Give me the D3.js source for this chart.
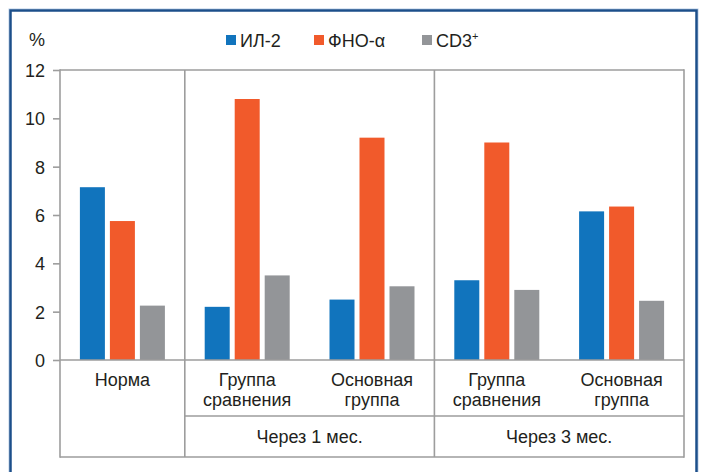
<!DOCTYPE html>
<html><head><meta charset="utf-8">
<script src="https://cdn.jsdelivr.net/npm/d3@7/dist/d3.min.js"></script>
<style>
html,body{margin:0;padding:0;background:#fff;}
svg text{font-family:"Liberation Sans",Arial,sans-serif;fill:#231f20;}
</style></head>
<body><svg id="c" width="702" height="472"></svg>
<script>
const categories = ["Норма", "Группа\nсравнения", "Основная\nгруппа", "Группа\nсравнения", "Основная\nгруппа"];
const seriesNames = ["ИЛ-2", "ФНО-α", "CD3"];
const il2 = [7.15, 2.2, 2.5, 3.3, 6.15];
const tnf = [5.75, 10.8, 9.2, 9.0, 6.35];
const cd3 = [2.25, 3.5, 3.05, 2.9, 2.45];
const periods = [{label: "Через 1 мес.", from: 1, to: 2}, {label: "Через 3 мес.", from: 3, to: 4}];
const yTicks = [0, 2, 4, 6, 8, 10, 12];
const colors = ["#1174bd", "#f15a2b", "#939598"];

const svg = d3.select("#c");
const L = 60, R = 684, T = 70, B = 360, band1 = 416, band2 = 457;
const lineCol = "#9d9d9d";
const FS = 18;

// frame
svg.append("rect").attr("x", 9).attr("y", 9).attr("width", 689).attr("height", 480)
  .attr("fill", "none").attr("stroke", "#b7cde8").attr("stroke-width", 1);
svg.append("rect").attr("x", 10.5).attr("y", 10.5).attr("width", 686).attr("height", 480)
  .attr("fill", "none").attr("stroke", "#1c4f8a").attr("stroke-width", 2.5);

const idx = d3.range(categories.length);
const x = d3.scaleBand().domain(idx).range([L, R]).padding(0);
const y = d3.scaleLinear().domain([0, 12]).range([B, T]);
const xs = d3.scaleBand().domain(d3.range(3)).range([-42.5, 42.5]).paddingInner(1/6).paddingOuter(0);

const data = [il2, tnf, cd3];

// bars
data.forEach((vals, s) => {
  svg.append("g").selectAll("rect").data(vals).join("rect")
    .attr("x", (d, i) => x(i) + x.bandwidth() / 2 + xs(s))
    .attr("width", xs.bandwidth())
    .attr("y", d => y(d))
    .attr("height", d => y(0) - y(d))
    .attr("fill", colors[s]);
});

const g = svg.append("g").attr("stroke", lineCol).attr("stroke-width", 1.6).attr("fill", "none");
// y axis with ticks
const yAxis = d3.axisLeft(y).tickValues(yTicks).tickSize(7).tickPadding(8).tickFormat(d3.format("d"));
const ya = svg.append("g").attr("transform", `translate(${L},0)`).call(yAxis);
ya.select(".domain").remove();
ya.selectAll(".tick line").attr("stroke", lineCol).attr("stroke-width", 1.6);
ya.selectAll(".tick text").attr("font-size", FS).attr("fill", "#231f20")
  .attr("font-family", null).attr("dy", "0.36em");

// lines
g.append("line").attr("x1", L).attr("x2", R).attr("y1", T).attr("y2", T);
g.append("line").attr("x1", L).attr("x2", R).attr("y1", B).attr("y2", B);
g.append("line").attr("x1", L).attr("x2", R).attr("y1", band2).attr("y2", band2);
g.append("line").attr("x1", x(1)).attr("x2", R).attr("y1", band1).attr("y2", band1);
g.append("line").attr("x1", L).attr("x2", L).attr("y1", T - 0.8).attr("y2", band2 + 0.8);
g.append("line").attr("x1", R).attr("x2", R).attr("y1", T - 0.8).attr("y2", band2 + 0.8);
[1, 3].forEach(i => g.append("line").attr("x1", x(i)).attr("x2", x(i)).attr("y1", T).attr("y2", band2));

// category labels
categories.forEach((c, i) => {
  const lines = c.split("\n");
  const t = svg.append("text").attr("text-anchor", "middle").attr("font-size", FS)
    .attr("x", x(i) + x.bandwidth() / 2).attr("y", 386);
  lines.forEach((ln, k) => t.append("tspan").attr("x", x(i) + x.bandwidth() / 2).attr("dy", k ? 20 : 0).text(ln));
});
periods.forEach(p => {
  svg.append("text").attr("text-anchor", "middle").attr("font-size", FS)
    .attr("x", (x(p.from) + x(p.to) + x.bandwidth()) / 2).attr("y", 443).text(p.label);
});

// unit
svg.append("text").attr("x", 29).attr("y", 46).attr("font-size", FS).text("%");

// legend
const legX = [226, 314, 422];
seriesNames.forEach((n, s) => {
  svg.append("rect").attr("x", legX[s]).attr("y", 35).attr("width", 10).attr("height", 10).attr("fill", colors[s]);
  const t = svg.append("text").attr("x", legX[s] + 14).attr("y", 47).attr("font-size", FS).text(n);
  if (s === 2) t.append("tspan").attr("font-size", 11).attr("dy", -7).text("+");
});
</script></body></html>
